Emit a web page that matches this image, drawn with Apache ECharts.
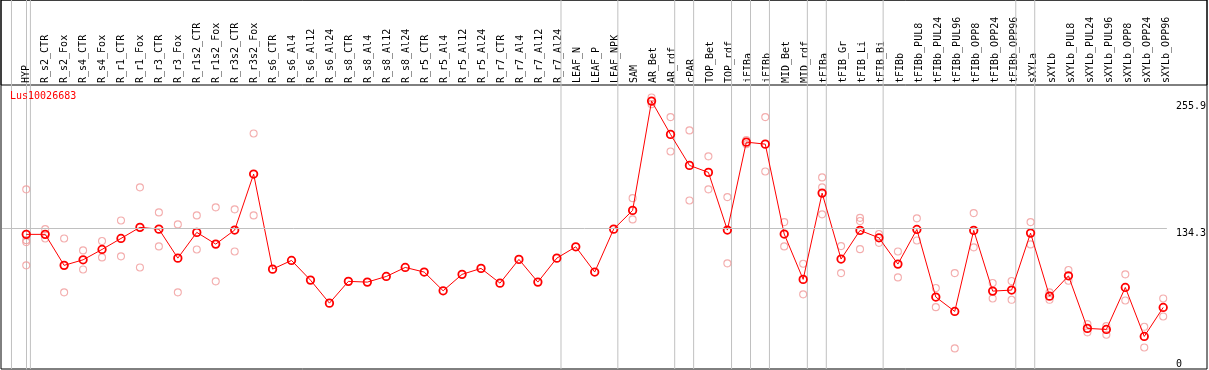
<!DOCTYPE html>
<html>
<head>
<meta charset="utf-8">
<script src="https://cdn.jsdelivr.net/npm/echarts@6/dist/echarts.min.js"></script>
<style>
html,body{margin:0;padding:0;background:#fff;}
#chart{width:1209px;height:370px;}
</style>
</head>
<body>
<div id="chart"></div>
<script>
const geneName = 'Lus10026683';
const categories = ['HYP','R_s2_CTR','R_s2_Fox','R_s4_CTR','R_s4_Fox','R_r1_CTR','R_r1_Fox','R_r3_CTR','R_r3_Fox','R_r1s2_CTR','R_r1s2_Fox','R_r3s2_CTR','R_r3s2_Fox','R_s6_CTR','R_s6_Al4','R_s6_Al12','R_s6_Al24','R_s8_CTR','R_s8_Al4','R_s8_Al12','R_s8_Al24','R_r5_CTR','R_r5_Al4','R_r5_Al12','R_r5_Al24','R_r7_CTR','R_r7_Al4','R_r7_Al12','R_r7_Al24','LEAF_N','LEAF_P','LEAF_NPK','SAM','AR_Bet','AR_rdf','cPAR','TOP_Bet','TOP_rdf','iFIBa','iFIBb','MID_Bet','MID_rdf','tFIBa','tFIB_Gr','tFIB_Li','tFIB_Bi','tFIBb','tFIBb_PUL8','tFIBb_PUL24','tFIBb_PUL96','tFIBb_OPP8','tFIBb_OPP24','tFIBb_OPP96','sXYLa','sXYLb','sXYLb_PUL8','sXYLb_PUL24','sXYLb_PUL96','sXYLb_OPP8','sXYLb_OPP24','sXYLb_OPP96'];

const meanValues = [128.6,128.6,99.0,104.3,114.2,124.7,135.3,133.6,105.9,130.5,119.3,132.7,186.2,
  95.4,103.7,84.9,62.9,83.7,83.0,88.4,97.0,92.6,74.7,90.4,96.1,82.0,104.7,83.0,105.9,116.7,
  92.6,133.6,151.5,255.9,224.1,194.5,187.8,132.7,216.7,214.8,128.9,85.6,168.0,105.0,132.4,125.3,
  100.2,133.3,68.7,55.0,132.4,74.4,75.4,129.8,69.6,89.0,38.8,37.8,77.9,31.1,58.8];

const rep1 = [171.6,133.6,124.7,113.3,122.2,141.9,173.5,149.6,138.1,146.7,154.4,152.5,225.0,
  null,null,null,null,null,null,null,null,null,null,null,null,null,null,null,null,null,
  null,null,163.2,259.4,240.6,227.9,203.1,164.2,218.6,240.6,140.3,100.5,183.0,117.4,144.4,128.9,
  112.3,143.9,77.3,91.6,148.9,82.1,84.0,140.3,73.2,94.5,42.9,41.0,90.4,40.3,67.4];
const rep2 = [99.0,124.7,73.2,95.1,106.6,107.6,97.0,117.1,73.2,114.2,83.7,112.3,146.7,
  null,null,null,null,null,null,null,null,null,null,null,null,null,null,null,null,null,
  null,null,142.9,253.0,207.8,161.0,171.6,100.9,214.8,188.7,117.1,71.3,147.7,91.6,114.5,120.5,
  87.5,122.8,59.1,19.7,116.2,67.4,66.1,119.0,66.1,84.3,35.0,32.7,65.5,20.6,50.2];
const rep3 = [123.1,null,null,null,null,null,null,null,null,null,null,null,null,
  null,null,null,null,null,null,null,null,null,null,null,null,null,null,null,null,null,
  null,null,null,null,null,null,null,null,null,null,null,null,173.5,null,141.3,null,
  null,null,null,null,null,null,null,null,null,null,null,null,null,null,null];
const rep4 = [121.2,null,null,null,null,null,null,null,null,null,null,null,null,
  null,null,null,null,null,null,null,null,null,null,null,null,null,null,null,null,null,
  null,null,null,null,null,null,null,null,null,null,null,null,null,null,null,null,
  null,null,null,null,null,null,null,null,null,null,null,null,null,null,null];

const yTickValues = [0, 134.3, 255.9];
const groupEnds = [-1, 0, 28, 31, 34, 35, 37, 38, 39, 41, 42, 45, 52, 53];

// layout
const FONT = 'DejaVu Sans Mono';
const step = 19, firstX = 26.3, plotLeft = 2, plotRight = 1170;
const plotTop = 0, plotHeight = 369, pxPerUnit = 1.0469;
const xMin = (plotLeft - firstX) / step;
const xMax = (plotRight - firstX) / step;
const yMax = plotHeight / pxPerUnit;
const sepOffset = 0.22;

const repData = [];
[rep1, rep2, rep3, rep4].forEach(r => r.forEach((v, i) => { if (v != null) repData.push([i, v]); }));
const meanData = meanValues.map((v, i) => [i, v]);

// separator lines drawn as a line series with two points each (full plot height)
const sepData = [];
groupEnds.forEach(g => { sepData.push([g + sepOffset, 0], [g + sepOffset, yMax], null); });

const chart = echarts.init(document.getElementById('chart'), null, {renderer: 'canvas'});
chart.setOption({
  animation: false,
  backgroundColor: '#fff',
  title: {
    text: geneName, left: 10, top: 91, padding: 0,
    textStyle: {color: '#ff0000', fontSize: 10, fontFamily: FONT, fontWeight: 'normal'}
  },
  grid: [
    {left: plotLeft, top: plotTop, width: plotRight - plotLeft, height: plotHeight, show: false},
    {left: firstX - step / 2, top: 85, width: step * categories.length, height: 10, show: false},
    {left: 1, top: 0, width: 1206, height: 369, show: true, borderColor: '#000', borderWidth: 1, backgroundColor: 'rgba(0,0,0,0)'},
    {left: 1, top: 0, width: 1206, height: 85, show: true, borderColor: '#000', borderWidth: 1, backgroundColor: 'rgba(0,0,0,0)'}
  ],
  xAxis: [
    {type: 'value', gridIndex: 0, min: xMin, max: xMax, show: false},
    {type: 'category', gridIndex: 1, position: 'top', data: categories,
      axisLine: {show: false}, axisTick: {show: false}, splitLine: {show: false},
      axisLabel: {interval: 0, rotate: 90, margin: 2, fontSize: 10, fontFamily: FONT, color: '#000'}},
    {type: 'value', gridIndex: 2, show: false},
    {type: 'value', gridIndex: 3, show: false}
  ],
  yAxis: [
    {type: 'value', gridIndex: 0, min: 0, max: yMax, position: 'right',
      axisLine: {show: true, lineStyle: {color: '#c0c0c0', width: 1}},
      axisTick: {show: false}, splitLine: {show: false},
      axisLabel: {customValues: yTickValues.slice(1), verticalAlign: 'top', margin: 9,
        fontSize: 10, fontFamily: FONT, color: '#000', formatter: v => String(v)}},
    {type: 'value', gridIndex: 0, min: 0, max: yMax, position: 'right', offset: 0,
      axisLine: {show: false}, axisTick: {show: false}, splitLine: {show: false},
      axisLabel: {customValues: yTickValues.slice(0, 1), verticalAlign: 'bottom', margin: 9,
        fontSize: 10, fontFamily: FONT, color: '#000', formatter: v => String(v)}},
    {type: 'value', gridIndex: 1, show: false},
    {type: 'value', gridIndex: 2, show: false},
    {type: 'value', gridIndex: 3, show: false}
  ],
  series: [
    {
      type: 'line', xAxisIndex: 0, yAxisIndex: 0, z: 1, silent: true,
      data: sepData, symbol: 'none', connectNulls: false,
      lineStyle: {color: '#c0c0c0', width: 1},
      markLine: {
        silent: true, symbol: 'none', animation: false,
        label: {show: false},
        lineStyle: {color: '#c0c0c0', type: 'solid', width: 1},
        data: [{yAxis: yTickValues[1]}]
      }
    },
    {
      type: 'scatter', xAxisIndex: 0, yAxisIndex: 0, z: 3,
      data: repData, symbol: 'circle', symbolSize: 7,
      itemStyle: {color: 'rgba(0,0,0,0)', borderColor: '#f09898', borderWidth: 1.1}
    },
    {
      type: 'line', xAxisIndex: 0, yAxisIndex: 0, z: 4,
      data: meanData, symbol: 'circle', symbolSize: 7.5, showSymbol: true,
      lineStyle: {color: '#ff0000', width: 1},
      itemStyle: {color: 'rgba(0,0,0,0)', borderColor: '#ff0000', borderWidth: 1.8}
    }
  ]
});
</script>
</body>
</html>
